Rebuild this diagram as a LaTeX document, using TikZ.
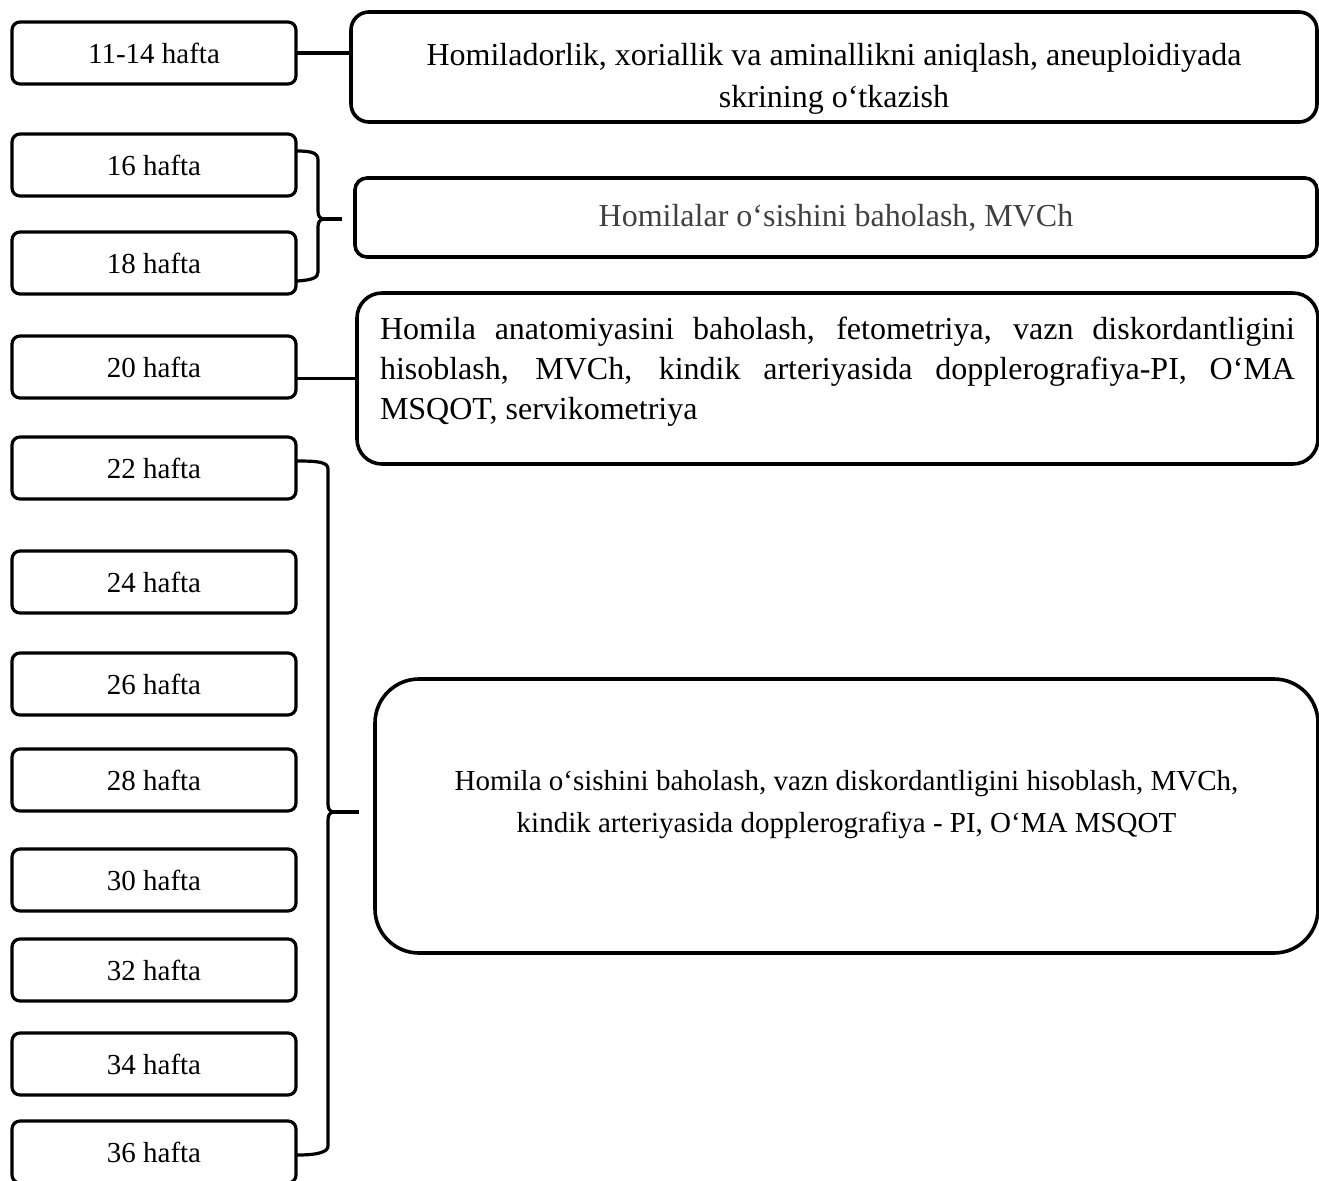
\documentclass[tikz,border=0pt]{standalone}
\usepackage{fontspec}
\setmainfont{Liberation Serif}
\usetikzlibrary{positioning, calc}
\definecolor{textgray}{HTML}{404040}

\begin{document}
\begin{tikzpicture}[
	x=0.5pt, y=-0.5pt,
	font=\fontsize{14.5}{20}\selectfont,
	week/.style={draw, line width=1.6pt, rounded corners=4pt, outer sep=0pt,
		minimum width=142pt, minimum height=31pt, inner sep=0pt},
	task/.style={draw, line width=1.8pt, inner sep=0pt, outer sep=0pt},
	link/.style={line width=1.6pt}
	]
\useasboundingbox (0,0) rectangle (1319,1180);

% weeks
\node[week] (w11) at (154,53) {11-14 hafta};
\node[week, below=25pt of w11] (w16) {16 hafta};
\node[week, below=18pt of w16] (w18) {18 hafta};
\node[week, below=21pt of w18] (w20) {20 hafta};
\node[week, below=19.5pt of w20] (w22) {22 hafta};
\node[week, below=26pt of w22] (w24) {24 hafta};
\node[week, below=20pt of w24] (w26) {26 hafta};
\node[week, below=17pt of w26] (w28) {28 hafta};
\node[week, below=19pt of w28] (w30) {30 hafta};
\node[week, below=14pt of w30] (w32) {32 hafta};
\node[week, below=16pt of w32] (w34) {34 hafta};
\node[week, below=13pt of w34] (w36) {36 hafta};

% examinations
\node[task, rounded corners=9pt, minimum width=483pt, minimum height=55pt,
	font=\fontsize{16}{20}\selectfont,
	align=center, text height=43pt, text depth=3pt] (tA) at (834,67)
	{Homiladorlik, xoriallik va aminallikni aniqlash, aneuploidiyada\\[1pt] skrining o‘tkazish};
\node[task, rounded corners=6pt, minimum width=481pt, minimum height=39.5pt,
	font=\fontsize{16}{20}\selectfont, text=textgray] (tB) at (836,217.5)
	{Homilalar o‘sishini baholash, MVCh};
\node[task, rounded corners=12.5pt, minimum width=480.5pt, minimum height=85.5pt,
	font=\fontsize{16}{20}\selectfont,
	text width=457.5pt, align=justify, text height=10pt, text depth=49.5pt] (tC) at (837.5,378.5)
	{Homila anatomiyasini baholash, fetometriya, vazn diskordantligini\linebreak
	hisoblash, MVCh, kindik arteriyasida dopplerografiya-PI, O‘MA\linebreak
	MSQOT, servikometriya};
\node[task, rounded corners=22pt, minimum width=471.5pt, minimum height=137pt,
	align=center, text height=19pt, text depth=3pt] (tD) at (846.5,816)
	{Homila o‘sishini baholash, vazn diskordantligini hisoblash, MVCh,\\[1pt]
	kindik arteriyasida dopplerografiya - PI, O‘MA MSQOT};

% braces
\coordinate (b1) at (322,219);
\coordinate (b2) at (332,812);
\draw[link] (297,151) .. controls (312,151) and (318,153) .. (318,160) -- (318,211)
	.. controls (318,216) and (320,218) .. (b1)
	.. controls (320,220) and (318,222) .. (318,227) -- (318,272)
	.. controls (318,278) and (312,280) .. (297,281);
\draw[link] (297,461) .. controls (318,461) and (328,462) .. (328,469) -- (328,804)
	.. controls (328,809) and (330,811) .. (b2)
	.. controls (330,813) and (328,815) .. (328,820) -- (328,1146)
	.. controls (328,1152) and (318,1155) .. (297,1155);

% connectors
\draw[link] (w11.east) -- (w11.east -| tA.west);
\draw[link, shorten >=6.5pt] (b1) -- (b1 -| tB.west);
\draw[link] (tC.west) -- (tC.west -| w20.east);
\draw[link, shorten >=8pt] (b2) -- (b2 -| tD.west);
\end{tikzpicture}
\end{document}
